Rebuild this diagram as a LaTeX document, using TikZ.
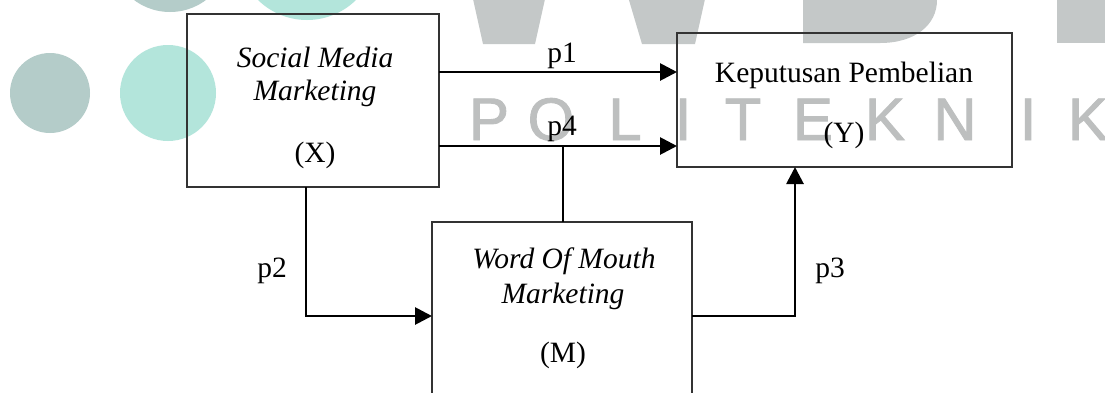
\documentclass[tikz,border=0pt]{standalone}
\usepackage{fontspec}
\setmainfont{Liberation Serif}
\newfontfamily\wmfont[FakeBold=1.5]{Liberation Sans}
\usetikzlibrary{arrows.meta}
\definecolor{wmgray}{HTML}{C4C8C8}
\definecolor{wmletter}{HTML}{BDBFBF}
\definecolor{wmsage}{HTML}{B4CCC9}
\definecolor{wmteal}{HTML}{B3E5DB}
\definecolor{boxline}{HTML}{333333}
\tikzset{
  boxnode/.style={draw=boxline, line width=1.6pt, inner sep=0pt, outer sep=0pt, fill=none},
  txt/.style={font=\fontsize{29.5}{34}\selectfont, inner sep=0pt, anchor=base},
  wmtxt/.style={font=\wmfont\fontsize{60}{60}\selectfont, text=wmletter, inner sep=0pt, anchor=base},
  arr/.style={line width=2.8pt, -{Triangle[length=17pt,width=17pt]}},
  plainline/.style={line width=2pt}
}
\begin{document}
\begin{tikzpicture}[x=1pt,y=-1pt]
\useasboundingbox (0,0) rectangle (1105,392);
\clip (0,0) rectangle (1105,392);
\fill[white] (0,0) rectangle (1105,392);
% watermark
\fill[wmsage] (50,93) circle[radius=40pt];
\fill[wmteal] (168,93) circle[radius=48pt];
\fill[wmsage] (170,-48) circle[radius=60pt];
\fill[wmteal] (307,-50) circle[radius=70pt];
\fill[wmgray] (471,-10) -- (547,-10) -- (535,44) -- (483,44) -- cycle;
\fill[wmgray] (626,-10) -- (707,-10) -- (695,44) -- (642,44) -- cycle;
\fill[wmgray] (803,-10) -- (803,43) -- (880,43) .. controls (915,43) and (937,25) .. (937,0) -- (937,-10) -- cycle;
\fill[wmgray] (1057,-10) rectangle (1115,43);
\node[wmtxt] (wP) at (489,140) {P};
\node[wmtxt] (wO) at (551,140) {O};
\node[wmtxt] (wL) at (625,140) {L};
\node[wmtxt] (wI) at (683,140) {I};
\node[wmtxt] (wT) at (743,140) {T};
\node[wmtxt] (wE) at (813,140) {E};
\node[wmtxt] (wK) at (885,140) {K};
\node[wmtxt] (wN) at (955,140) {N};
\node[wmtxt] (wI2) at (1028,140) {I};
\node[wmtxt] (wK2) at (1088,140) {K};
% boxes
\node[boxnode, minimum width=252pt, minimum height=173pt] (X) at (313,100.5) {};
\node[boxnode, minimum width=335pt, minimum height=134pt] (Y) at (844.5,100) {};
\node[boxnode, minimum width=260pt, minimum height=200pt] (M) at (562,322) {};
% box texts
\node[txt] (xt1) at (315,67) {\textit{Social Media}};
\node[txt] (xt2) at (315,100) {\textit{Marketing}};
\node[txt] (xt3) at (315,162) {(X)};
\node[txt] (yt1) at (844,82) {Keputusan Pembelian};
\node[txt] (yt2) at (844,142) {(Y)};
\node[txt] (mt1) at (564,268) {\textit{Word Of Mouth}};
\node[txt] (mt2) at (563,303) {\textit{Marketing}};
\node[txt] (mt3) at (563,362) {(M)};
% connectors
\coordinate (j) at (563,146);
\draw[plainline] (M.north -| j) -- (j);
\draw[arr] (X.east |- {(0,72)}) -- (Y.west |- {(0,72)});
\draw[arr] (X.east |- j) -- (Y.west |- j);
\draw[arr] (X.south -| {(306,0)}) |- (M.west |- {(0,316)});
\draw[arr] (M.east |- {(0,316)}) -| (Y.south -| {(795,0)});
% labels
\node[txt] (p1) at (562,62) {p1};
\node[txt] (p4) at (562,135) {p4};
\node[txt] (p2) at (272,277) {p2};
\node[txt] (p3) at (830,277) {p3};
\end{tikzpicture}
\end{document}
